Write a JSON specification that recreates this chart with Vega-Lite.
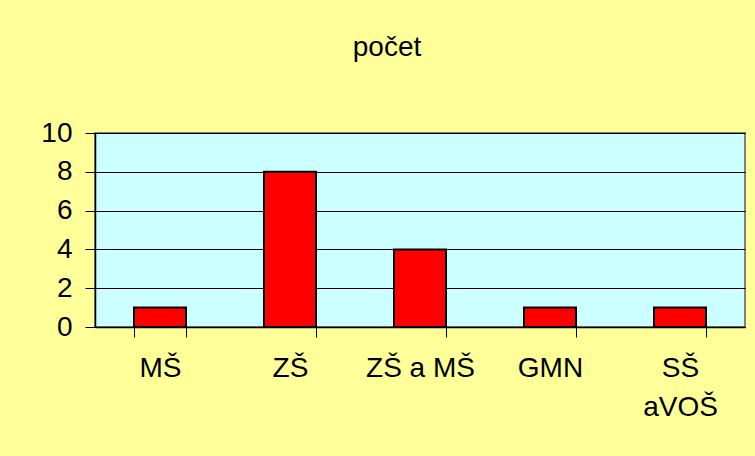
{
  "$schema": "https://vega.github.io/schema/vega-lite/v6.json",
  "width": 650,
  "height": 194,
  "autosize": "none",
  "padding": {"left": 95, "top": 133, "right": 10, "bottom": 129},
  "background": "#FFFF99",
  "title": {
    "text": "počet",
    "font": "Liberation Sans",
    "fontSize": 28,
    "fontWeight": "normal",
    "color": "#000000",
    "anchor": "middle",
    "dx": -33,
    "offset": 57
  },
  "data": {
    "values": [
      {"kategorie": "MŠ", "pocet": 1},
      {"kategorie": "ZŠ", "pocet": 8},
      {"kategorie": "ZŠ a MŠ", "pocet": 4},
      {"kategorie": "GMN", "pocet": 1},
      {"kategorie": "SŠ\naVOŠ", "pocet": 1}
    ]
  },
  "mark": {"type": "bar", "color": "#FF0000", "stroke": "#000000", "strokeWidth": 2},
  "encoding": {
    "x": {
      "field": "kategorie",
      "type": "nominal",
      "sort": null,
      "scale": {"paddingInner": 0.6, "paddingOuter": 0.3},
      "axis": {
        "title": null,
        "labelAngle": 0,
        "labelFont": "Liberation Sans",
        "labelFontSize": 28,
        "labelColor": "#000000",
        "labelExpr": "split(datum.label, '\\n')",
        "labelLineHeight": 39,
        "labelPadding": 17,
        "tickSize": 10,
        "tickColor": "#000000",
        "tickBand": "extent",
        "domainColor": "#000000",
        "domainWidth": 1.5
      }
    },
    "y": {
      "field": "pocet",
      "type": "quantitative",
      "scale": {"domain": [0, 10]},
      "axis": {
        "title": null,
        "values": [0, 2, 4, 6, 8, 10],
        "labelFont": "Liberation Sans",
        "labelFontSize": 28,
        "labelColor": "#000000",
        "labelPadding": 13,
        "tickSize": 10,
        "tickColor": "#000000",
        "domainColor": "#000000",
        "domainWidth": 1.5,
        "grid": true,
        "gridColor": "#000000",
        "gridWidth": 1.2
      }
    }
  },
  "config": {
    "view": {"fill": "#CCFFFF", "stroke": "#808080", "strokeWidth": 2}
  }
}
